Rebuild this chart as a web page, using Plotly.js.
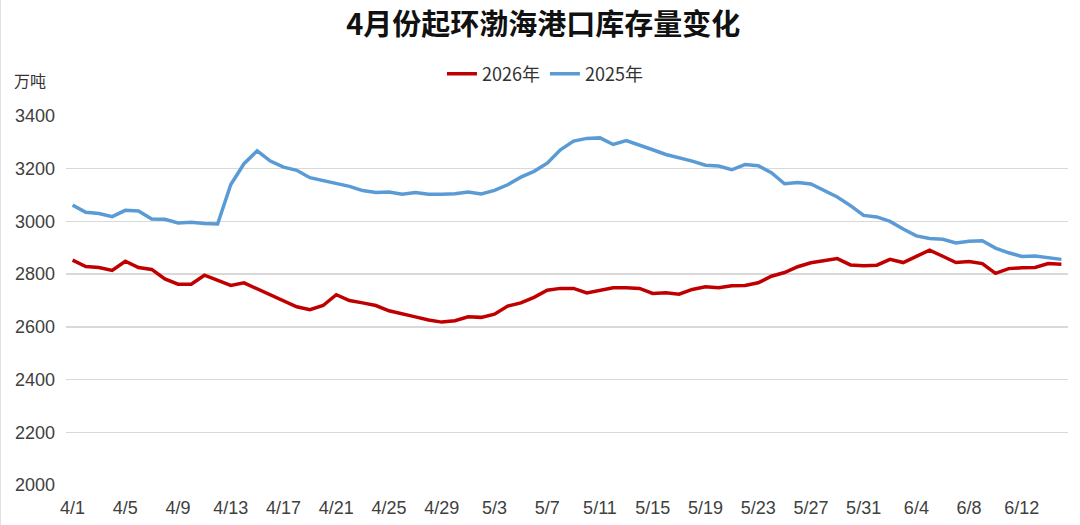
<!DOCTYPE html>
<html>
<head>
<meta charset="utf-8">
<script src="https://cdn.plot.ly/plotly-3.0.1.min.js"></script>
<style>
  html, body { margin: 0; padding: 0; background: #fff; }
  #chart { width: 1080px; height: 525px; }
</style>
</head>
<body>
<div id="chart"></div>
<script>
// 日期（类别轴）
const dates = [
  '4/1','4/2','4/3','4/4','4/5','4/6','4/7','4/8','4/9','4/10',
  '4/11','4/12','4/13','4/14','4/15','4/16','4/17','4/18','4/19','4/20',
  '4/21','4/22','4/23','4/24','4/25','4/26','4/27','4/28','4/29','4/30',
  '5/1','5/2','5/3','5/4','5/5','5/6','5/7','5/8','5/9','5/10',
  '5/11','5/12','5/13','5/14','5/15','5/16','5/17','5/18','5/19','5/20',
  '5/21','5/22','5/23','5/24','5/25','5/26','5/27','5/28','5/29','5/30',
  '5/31','6/1','6/2','6/3','6/4','6/5','6/6','6/7','6/8','6/9',
  '6/10','6/11','6/12','6/13','6/14','6/15'
];

// 2026年 库存（万吨）
const stock2026 = [
  2853, 2829, 2825, 2814, 2849, 2825, 2818, 2782, 2762, 2762,
  2796, 2777, 2757, 2767, 2744, 2724, 2699, 2676, 2665, 2681,
  2722, 2700, 2691, 2681, 2661, 2651, 2638, 2626, 2618, 2623,
  2638, 2636, 2648, 2679, 2691, 2712, 2739, 2746, 2746, 2729,
  2739, 2748, 2748, 2746, 2727, 2729, 2724, 2742, 2752, 2748,
  2756, 2757, 2767, 2792, 2806, 2828, 2843, 2851, 2859, 2835,
  2832, 2834, 2856, 2844, 2867, 2891, 2868, 2844, 2848, 2840,
  2803, 2821, 2824, 2825, 2840, 2838
];

// 2025年 库存（万吨）
const stock2025 = [
  3062, 3035, 3030, 3018, 3042, 3040, 3009, 3008, 2994, 2997,
  2992, 2990, 3140, 3219, 3268, 3229, 3206, 3194, 3166, 3155,
  3143, 3133, 3117, 3110, 3112, 3103, 3110, 3103, 3103, 3105,
  3112, 3104, 3118, 3139, 3168, 3190, 3221, 3272, 3305, 3315,
  3317, 3292, 3307, 3288, 3272, 3254, 3242, 3229, 3213, 3210,
  3196, 3216, 3211, 3185, 3143, 3148, 3142, 3118, 3093, 3060,
  3023, 3017, 3000, 2971, 2945, 2935, 2932, 2918, 2925, 2927,
  2899, 2881, 2867, 2869, 2861, 2856
];

// 每4天显示一个刻度
const tickDates = dates.filter((d, i) => i % 4 === 0);
const yTicks = [2000, 2200, 2400, 2600, 2800, 3000, 3200, 3400];

const numFont = { family: 'Liberation Sans, Arial, sans-serif', size: 18, color: '#404040' };
const cjkFont = 'Noto Sans CJK SC, sans-serif';

const traces = [
  {
    x: dates, y: stock2026, name: '2026年',
    type: 'scatter', mode: 'lines',
    line: { color: '#c00000', width: 3.5 }
  },
  {
    x: dates, y: stock2025, name: '2025年',
    type: 'scatter', mode: 'lines',
    line: { color: '#5b9bd5', width: 3.5 }
  }
];

const layout = {
  width: 1080,
  height: 525,
  paper_bgcolor: '#fff',
  plot_bgcolor: '#fff',
  margin: { l: 66, r: 12, t: 116, b: 40 },
  title: {
    text: '<b>4月份起环渤海港口库存量变化</b>',
    font: { family: cjkFont, size: 29, color: '#111' },
    x: 0.503, xanchor: 'center',
    y: 0.952, yanchor: 'middle'
  },
  showlegend: true,
  legend: {
    orientation: 'h',
    x: 0.478, xanchor: 'center',
    y: 1.114, yanchor: 'middle',
    font: { family: cjkFont, size: 18, color: '#333' },
    itemwidth: 30,
    tracegroupgap: 0
  },
  xaxis: {
    type: 'category',
    range: [-0.5, dates.length - 0.5],
    tickmode: 'array',
    tickvals: tickDates,
    ticktext: tickDates,
    tickfont: numFont,
    showgrid: false,
    showline: false,
    zeroline: false,
    ticks: '',
    ticklabelstandoff: 10
  },
  yaxis: {
    range: [2000, 3400],
    tickmode: 'array',
    tickvals: yTicks,
    tickfont: numFont,
    showgrid: true,
    gridcolor: '#d9d9d9',
    gridwidth: 1.3,
    zeroline: false,
    showline: false,
    ticks: '',
    ticklabelstandoff: 10
  },
  annotations: [
    {
      text: '万吨',
      xref: 'paper', yref: 'paper',
      x: -0.054, y: 1.097,
      xanchor: 'left', yanchor: 'middle',
      showarrow: false,
      font: { family: cjkFont, size: 16, color: '#333' }
    }
  ],
  shapes: [
    {
      type: 'line', xref: 'paper', yref: 'paper',
      x0: -0.066, x1: -0.066, y0: -0.11, y1: 1.32,
      line: { color: '#d0d0d0', width: 1.5 }
    }
  ]
};

Plotly.newPlot('chart', traces, layout, { displayModeBar: false, staticPlot: true });
</script>
</body>
</html>
